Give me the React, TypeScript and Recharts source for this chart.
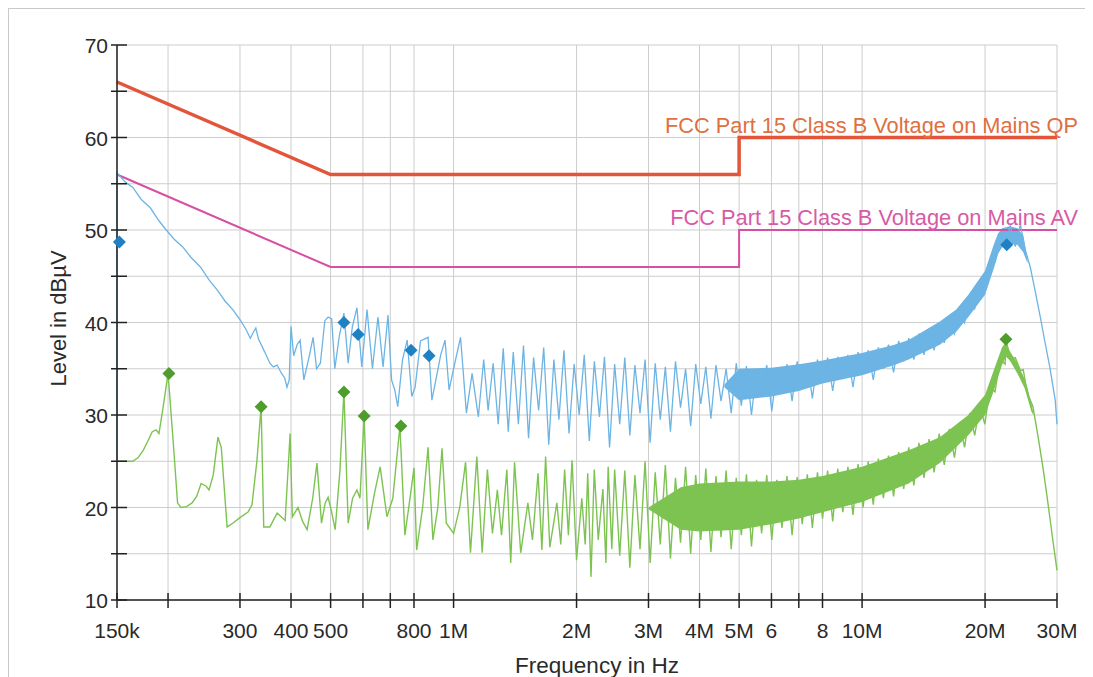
import React from 'react';
import {
  ComposedChart,
  Line,
  Area,
  Scatter,
  XAxis,
  YAxis,
  CartesianGrid,
  ReferenceDot,
  Label,
} from 'recharts';

// all frequencies in kHz, levels in dBµV

const qpLimitFreq = [150, 500, 5000, 5000, 30000];
const qpLimitLevel = [66, 56, 56, 60, 60];
const avLimitFreq = [150, 500, 5000, 5000, 30000];
const avLimitLevel = [56, 46, 46, 50, 50];

// peak trace (blue)
const peakFreq = [
  150, 150, 157, 164, 172, 181, 190, 198, 207, 217, 228, 240, 252, 264, 276, 288, 300, 310, 318, 324,
  328, 333, 345, 355, 362, 370, 378, 386, 391, 396, 400, 406, 414, 421, 430, 444, 453, 462, 472, 484,
  493, 503, 512, 525, 539, 552, 565, 580, 596, 614, 633, 653, 672, 691, 705, 718, 730, 750, 770, 790,
  805, 830, 866, 885, 905, 930, 953, 975, 1000, 1040, 1075, 1110, 1150, 1185, 1215, 1250, 1286, 1323,
  1361, 1400, 1441, 1483, 1526, 1570, 1615, 1662, 1710, 1760, 1811, 1863, 1917, 1973, 2030, 2089,
  2149, 2211, 2275, 2341, 2409, 2479, 2551, 2625, 2701, 2779, 2860, 2943, 3028, 3116, 3206, 3299,
  3395, 3493, 3594, 3698, 3805, 3915, 4029, 4145, 4265, 4389, 4516, 4647, 4782, 4920, 5063, 5210,
  5361, 5517, 5677, 5842, 6011, 6186, 6365, 6550, 6740, 6936, 7137, 7344, 7557, 7776, 8002, 8234,
  8473, 8718, 8971, 9232, 9499, 9775, 10058, 10350, 10650, 10959, 11277, 11604, 11941, 12287, 12643,
  13010, 13387, 13776, 14175, 14586, 15009, 15445, 15893, 16353, 16828, 17316, 17818, 18335, 18866,
  19413, 19976, 20556, 21152, 21765, 22397, 23046, 23714, 24402, 25110, 25800, 26500, 27300, 28000,
  28800, 29700, 30000,
];
const peakLevel = [
  25, 56.2, 55.2, 54.6, 53.3, 52.4, 51.0, 50.0, 49.0, 48.2, 47.0, 46.0, 44.6, 43.5, 42.3, 41.4, 40.3, 39.3, 38.3, 39.0,
  39.4, 38.2, 36.8, 35.6, 35.2, 35.4, 34.6, 34.0, 33.0, 33.8, 39.6, 36.4, 37.6, 38.1, 33.8, 36.5, 38.4, 35.0, 35.6, 40.2,
  40.6, 40.4, 35.0, 38.5, 41.0, 35.6, 39.5, 41.6, 35.2, 41.4, 35.0, 40.6, 35.2, 40.8, 33.8, 32.7, 30.9, 36.0, 38.1, 32.0,
  33.0, 38.0, 38.4, 31.6, 33.8, 36.5, 38.1, 32.7, 35.0, 38.4, 30.2, 34.5, 29.8, 36.0, 30.5, 35.6, 29.0, 37.2,
  28.2, 36.8, 29.0, 37.5, 27.5, 36.2, 30.5, 37.3, 26.8, 36.0, 29.5, 37.0, 28.0, 35.5, 30.0, 36.5,
  27.2, 35.8, 29.8, 36.3, 26.5, 35.5, 29.0, 36.2, 27.8, 35.4, 30.2, 36.0, 27.0, 35.6, 29.5, 35.2,
  28.2, 35.8, 30.8, 35.0, 28.8, 35.5, 31.2, 35.2, 29.6, 35.4, 31.5, 35.0, 30.2, 35.6, 31.0, 35.3,
  30.0, 35.0, 32.2, 35.4, 30.4, 35.0, 32.5, 35.5, 31.5, 35.8, 33.0, 35.6, 31.8, 36.0, 33.5, 36.2,
  32.6, 36.3, 34.0, 36.5, 33.0, 36.8, 34.5, 37.0, 33.8, 37.3, 35.0, 37.6, 34.6, 38.0, 35.8,
  38.3, 36.0, 38.8, 36.5, 39.3, 37.0, 40.0, 37.8, 40.6, 38.8, 41.3, 40.0, 42.5, 41.5,
  43.8, 43.5, 45.5, 46.5, 48.5, 48.2, 50.5, 48.2, 50.6, 47.8, 46.0, 43.5, 40.6, 38.0,
  35.2, 31.6, 29.0,
];

// average trace (green)
const avgFreq = [
  150, 164, 169, 174, 179, 183, 187, 190, 194, 200, 206, 211, 215, 222, 229, 235, 241, 248, 252, 258,
  265, 270, 279, 288, 300, 314, 321, 330, 338, 343, 355, 370, 387, 398, 403, 416, 427, 438, 452, 463,
  475, 485, 493, 503, 513, 527, 539, 552, 566, 580, 590, 604, 617, 640, 661, 687, 710, 739, 760, 785,
  800, 812, 840, 866, 890, 915, 937, 960, 1000, 1035, 1070, 1100, 1140, 1175, 1210, 1245, 1280, 1310,
  1350, 1380, 1410, 1460, 1520, 1560, 1610, 1645, 1680, 1720, 1790, 1830, 1870, 1910, 1950, 2000,
  2060, 2100, 2130, 2170, 2210, 2260, 2320, 2360, 2390, 2440, 2479, 2551, 2625, 2701, 2779, 2860,
  2943, 3028, 3116, 3206, 3299, 3395, 3493, 3594, 3698, 3805, 3915, 4029, 4145, 4265, 4389, 4516,
  4647, 4782, 4920, 5063, 5210, 5361, 5517, 5677, 5842, 6011, 6186, 6365, 6550, 6740, 6936, 7137,
  7344, 7557, 7776, 8002, 8234, 8473, 8718, 8971, 9232, 9499, 9775, 10058, 10350, 10650, 10959,
  11277, 11604, 11941, 12287, 12643, 13010, 13387, 13776, 14175, 14586, 15009, 15445, 15893, 16353,
  16828, 17316, 17818, 18335, 18866, 19413, 19976, 20556, 21152, 21765, 22397, 22500, 23046, 23714,
  24402, 24800, 25110, 25600, 26200, 27000, 27700, 28300, 28800, 29400, 30000,
];
const avgLevel = [
  25.0, 25.0, 25.4, 26.2, 27.3, 28.2, 28.4, 28.0, 30.5, 34.5, 27.0, 20.5, 20.0, 20.1, 20.5, 21.2, 22.6, 22.3, 21.9, 23.5,
  27.6, 26.5, 17.9, 18.3, 18.9, 19.5, 20.3, 25.0, 30.9, 17.9, 17.9, 19.4, 18.6, 28.0, 19.0, 20.0, 18.5, 17.6, 21.0, 24.8,
  18.3, 20.5, 21.1, 19.5, 17.6, 24.0, 32.6, 18.3, 21.0, 21.9, 21.0, 29.8, 17.6, 21.5, 24.4, 19.0, 21.0, 28.8, 17.0, 21.5,
  24.3, 15.4, 20.0, 26.5, 16.5, 20.0, 26.4, 18.3, 17.2, 20.0, 24.9, 15.1, 25.5, 15.1, 24.1, 17.2, 21.9, 17.0,
  24.1, 14.0, 24.9, 15.1, 20.5, 16.5, 23.7, 15.4, 25.5, 15.7, 20.5, 16.0, 24.1, 17.0, 25.1, 14.3,
  21.0, 16.0, 23.7, 12.5, 24.1, 16.5, 22.0, 14.0, 24.4, 15.5, 24.1, 14.8, 24.0, 13.5, 23.5, 15.5,
  25.0, 14.0, 23.8, 16.0, 24.6, 14.5, 23.2, 16.2, 24.4, 15.0, 23.5, 16.5, 24.2, 15.2, 23.4, 16.8,
  24.0, 15.5, 23.2, 17.0, 23.6, 15.8, 23.0, 17.2, 23.5, 16.5, 23.0, 17.8, 23.4, 17.0, 23.3, 18.2,
  23.6, 17.8, 23.8, 18.8, 24.0, 18.5, 24.2, 19.5, 24.4, 19.2, 24.7, 20.0, 25.0, 20.3, 25.3,
  21.0, 25.6, 21.2, 26.0, 22.0, 26.5, 22.4, 27.0, 23.2, 27.4, 23.8, 28.0, 24.6, 28.5,
  25.4, 29.2, 26.5, 30.2, 27.8, 31.0, 29.0, 33.0, 32.5, 36.0, 35.5, 38.2, 36.0, 36.2,
  34.8, 34.9, 33.5, 32.0, 30.9, 27.5, 24.4, 21.5, 19.0, 16.0, 13.2,
];

// core of the dense parts of the scans (low / high edge)
const peakBandFreq = [4600, 5000, 6000, 7000, 8000, 10000, 12000, 13000, 15500, 17000, 18200, 20000, 21000, 21500, 22000, 23000, 24000, 24800, 25400];
const peakBandLow = [33.0, 31.6, 32.0, 32.6, 33.4, 34.3, 35.4, 36.0, 37.6, 39.0, 40.6, 43.0, 45.8, 47.4, 48.1, 48.5, 48.4, 47.6, 46.4];
const peakBandHigh = [33.3, 35.0, 35.1, 35.5, 35.9, 36.7, 37.6, 38.1, 40.1, 41.4, 43.0, 45.6, 48.4, 49.6, 50.2, 50.4, 50.2, 49.4, 46.8];

const avgBandFreq = [3000, 3600, 4000, 5000, 6000, 7000, 8000, 10000, 13000, 15500, 18200, 20000, 21000, 22000, 22500, 23000, 24000, 25000, 26000, 26300];
const avgBandLow = [19.8, 17.6, 17.4, 17.6, 18.2, 18.8, 19.5, 20.6, 22.6, 24.8, 27.8, 30.0, 32.6, 35.4, 36.3, 35.9, 34.5, 32.9, 30.3, 30.0];
const avgBandHigh = [20.0, 22.2, 22.6, 22.8, 22.8, 23.0, 23.4, 24.4, 26.2, 27.6, 30.0, 32.2, 34.8, 37.3, 37.9, 36.9, 35.6, 33.9, 31.1, 30.1];

// final measurement markers
const qpMarkFreq = [152, 539, 584, 787, 871, 22600];
const qpMarkLevel = [48.7, 40.0, 38.7, 37.0, 36.4, 48.4];
const avMarkFreq = [201, 338, 539, 604, 743, 22500];
const avMarkLevel = [34.5, 30.9, 32.5, 29.9, 28.8, 38.2];

const xTicks = [150, 200, 300, 400, 500, 600, 700, 800, 1000, 2000, 3000, 4000, 5000, 6000, 7000, 8000, 10000, 20000, 30000];
const xTickLabels = ['150k', '', '300', '400', '500', '', '', '800', '1M', '2M', '3M', '4M', '5M', '6', '', '8', '10M', '20M', '30M'];
const yTicks = [10, 15, 20, 25, 30, 35, 40, 45, 50, 55, 60, 65, 70];

const BLUE = '#6cb4e4';
const GREEN = '#7dc352';
const QP = '#e2553a';
const AV = '#d64fa2';
const FONT = '"Liberation Sans", Arial, sans-serif';

const toRows = (fs: number[], vs: number[]) => fs.map((f, i) => ({ f, v: vs[i] }));
const toBand = (fs: number[], lo: number[], hi: number[]) => fs.map((f, i) => ({ f, lo: lo[i], hi: hi[i] }));

const qpLimit = toRows(qpLimitFreq, qpLimitLevel);
const avLimit = toRows(avLimitFreq, avLimitLevel);
const peakRows = toRows(peakFreq, peakLevel);
const avgRows = toRows(avgFreq, avgLevel);
const peakBand = toBand(peakBandFreq, peakBandLow, peakBandHigh);
const avgBand = toBand(avgBandFreq, avgBandLow, avgBandHigh);
const qpMarks = toRows(qpMarkFreq, qpMarkLevel);
const avMarks = toRows(avMarkFreq, avMarkLevel);

const XTick = (props: any) => {
  const { x, y, payload } = props;
  const label = xTickLabels[xTicks.indexOf(payload.value)];
  return (
    <g>
      <line x1={x} x2={x} y1={y - 7} y2={y + 8} stroke='#222' strokeWidth={1.5} />
      <text x={x} y={y + 38} textAnchor='middle' fontSize={21} fill='#2a2a2a' fontFamily={FONT}>
        {label}
      </text>
    </g>
  );
};

const YTick = (props: any) => {
  const { x, y, payload } = props;
  const v = payload.value;
  return (
    <g>
      <line x1={x - 6} x2={x + 10} y1={y} y2={y} stroke='#222' strokeWidth={1.5} />
      {v % 10 === 0 && (
        <text x={x - 9} y={y + 8} textAnchor='end' fontSize={21} fill='#2a2a2a' fontFamily={FONT}>
          {v}
        </text>
      )}
    </g>
  );
};

const Diamond = (props: any) => {
  const { cx, cy, fill } = props;
  const r = 6.5;
  return <polygon points={`${cx},${cy - r} ${cx + r},${cy} ${cx},${cy + r} ${cx - r},${cy}`} fill={fill} />;
};

const limitLabel = (text: string, color: string) => (props: any) => {
  const vb = props.viewBox || { x: 0, y: 0 };
  return (
    <text x={vb.x + 21} y={vb.y - 5} textAnchor='end' fontSize={21.8} fill={color} fontFamily={FONT}>
      {text}
    </text>
  );
};

const xTitle = (props: any) => {
  const vb = props.viewBox || { x: 0, y: 0, width: 0 };
  return (
    <text x={vb.x + vb.width / 2 + 10} y={vb.y + 73} textAnchor='middle' fontSize={22.5} fill='#2a2a2a' fontFamily={FONT}>
      Frequency in Hz
    </text>
  );
};

const yTitle = (props: any) => {
  const vb = props.viewBox || { x: 0, y: 0, height: 0 };
  const cx = vb.x + 1;
  const cy = vb.y + vb.height / 2 - 4;
  return (
    <text
      x={cx}
      y={cy}
      transform={`rotate(-90 ${cx} ${cy})`}
      textAnchor='middle'
      dominantBaseline='central'
      fontSize={22}
      fill='#2a2a2a'
      fontFamily={FONT}
    >
      Level in dBµV
    </text>
  );
};

const App: React.FC = () => {
  return (
    <div style={{ width: 1077, height: 690, border: '1px solid #c9c9c9', background: '#fff', fontFamily: FONT }}>
      <style>{'html,body{overflow:hidden}'}</style>
      <ComposedChart width={1077} height={680} margin={{ top: 36, right: 29, bottom: 14, left: 48 }}>
        <CartesianGrid stroke='#cdcdcd' strokeWidth={1} />
        <XAxis
          dataKey='f'
          type='number'
          scale='log'
          domain={[150, 30000]}
          ticks={xTicks}
          interval={0}
          tickLine={false}
          tickSize={0}
          tickMargin={0}
          height={75}
          axisLine={{ stroke: '#222', strokeWidth: 1.5 }}
          tick={XTick}
        >
          <Label content={xTitle} />
        </XAxis>
        <YAxis
          type='number'
          domain={[10, 70]}
          ticks={yTicks}
          interval={0}
          tickLine={false}
          tickSize={0}
          tickMargin={0}
          width={60}
          axisLine={{ stroke: '#222', strokeWidth: 1.5 }}
          tick={YTick}
        >
          <Label content={yTitle} />
        </YAxis>

        <Line data={qpLimit} dataKey='v' type='linear' stroke={QP} strokeWidth={3.5} dot={false} activeDot={false} isAnimationActive={false} />
        <Line data={avLimit} dataKey='v' type='linear' stroke={AV} strokeWidth={2} dot={false} activeDot={false} isAnimationActive={false} />

        <Area data={peakBand} dataKey={(d: any) => [d.lo, d.hi]} type='linear' stroke='none' fill={BLUE} fillOpacity={1} dot={false} activeDot={false} isAnimationActive={false} />
        <Area data={avgBand} dataKey={(d: any) => [d.lo, d.hi]} type='linear' stroke='none' fill={GREEN} fillOpacity={1} dot={false} activeDot={false} isAnimationActive={false} />

        <Line data={peakRows} dataKey='v' type='linear' stroke={BLUE} strokeWidth={1.3} dot={false} activeDot={false} isAnimationActive={false} />
        <Line data={avgRows} dataKey='v' type='linear' stroke={GREEN} strokeWidth={1.4} dot={false} activeDot={false} isAnimationActive={false} />

        <Scatter data={qpMarks} dataKey='v' fill='#1f80c4' shape={Diamond} isAnimationActive={false} />
        <Scatter data={avMarks} dataKey='v' fill='#4f9d2c' shape={Diamond} isAnimationActive={false} />

        <ReferenceDot x={30000} y={60} r={0} fill='none' stroke='none'>
          <Label content={limitLabel('FCC Part 15 Class B Voltage on Mains QP', '#e0703f')} />
        </ReferenceDot>
        <ReferenceDot x={30000} y={50} r={0} fill='none' stroke='none'>
          <Label content={limitLabel('FCC Part 15 Class B Voltage on Mains AV', '#d75aa6')} />
        </ReferenceDot>
      </ComposedChart>
    </div>
  );
};

export default App;
